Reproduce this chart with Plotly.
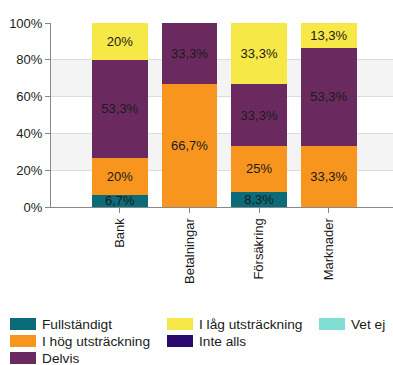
import plotly.graph_objects as go

# Categories and response shares (percent), bottom-to-top stacking order
categories = ["Bank", "Betalningar", "Försäkring", "Marknader"]
series_names = ["Fullständigt", "I hög utsträckning", "Delvis",
                "I låg utsträckning", "Inte alls", "Vet ej"]
fullstandigt = [6.7, 0, 8.3, 0]
i_hog = [20, 66.7, 25, 33.3]
delvis = [53.3, 33.3, 33.3, 53.3]
i_lag = [20, 0, 33.3, 13.3]
inte_alls = [0, 0, 0, 0]
vet_ej = [0, 0, 0, 0]
y_ticks = [0, 20, 40, 60, 80, 100]
y_tick_labels = ["0%", "20%", "40%", "60%", "80%", "100%"]

series_values = [fullstandigt, i_hog, delvis, i_lag, inte_alls, vet_ej]
colors = ["#0b6b78", "#f7951e", "#6a2a5f", "#f6e846", "#29096b", "#80ddd2"]

FONT = "Liberation Sans, Arial, sans-serif"

W, H = 393, 365
ML, MR, MT, MB = 51, 0, 23, 158
PW, PH = W - ML - MR, H - MT - MB


def fmt(v):
    if v == 0:
        return ""
    s = f"{v:.1f}".rstrip("0").rstrip(".")
    return s.replace(".", ",") + "%"


def px_x(x):
    return (x - ML) / PW


def px_y(y):
    return (H - MB - y) / PH


fig = go.Figure()
for name, vals, col in zip(series_names, series_values, colors):
    fig.add_trace(go.Bar(
        x=categories, y=vals, name=name,
        marker=dict(color=col, line=dict(width=0)),
        text=[fmt(v) for v in vals],
        textposition="inside", insidetextanchor="middle",
        textfont=dict(family=FONT, size=13, color="#1a1a1a"),
        showlegend=False,
    ))

# alternating light bands behind the bars
shapes = []
for lo, hi in [(20, 40), (60, 80)]:
    shapes.append(dict(type="rect", xref="paper", yref="y", x0=0, x1=1,
                       y0=lo, y1=hi, fillcolor="#f4f4f4", line=dict(width=0),
                       layer="below"))

# legend drawn as three columns of swatches + labels
legend_cols = [[0, 1, 2], [3, 4], [5]]
col_x = [10, 167, 319]
row_y = [324, 341, 358]
annotations = []
for ci, items in enumerate(legend_cols):
    for ri, idx in enumerate(items):
        x0 = col_x[ci]
        yc = row_y[ri]
        shapes.append(dict(type="rect", xref="paper", yref="paper",
                           x0=px_x(x0), x1=px_x(x0 + 26),
                           y0=px_y(yc + 6), y1=px_y(yc - 6),
                           fillcolor=colors[idx], line=dict(width=0)))
        annotations.append(dict(xref="paper", yref="paper",
                                x=px_x(x0 + 30), y=px_y(yc),
                                xanchor="left", yanchor="middle",
                                text=series_names[idx], showarrow=False,
                                font=dict(family=FONT, size=13.7, color="#1a1a1a")))

fig.update_layout(
    barmode="stack", bargap=0.2,
    width=W, height=H,
    margin=dict(l=ML, r=MR, t=MT, b=MB),
    paper_bgcolor="white", plot_bgcolor="white",
    font=dict(family=FONT, size=13, color="#222"),
    uniformtext=dict(minsize=13, mode="show"),
    shapes=shapes, annotations=annotations,
    xaxis=dict(range=[-0.99, 3.92], tickangle=-90, showgrid=False,
               showline=True, linecolor="#888", linewidth=1,
               ticks="outside", ticklen=5, tickcolor="#888",
               tickfont=dict(family=FONT, size=13, color="#1a1a1a")),
    yaxis=dict(range=[0, 100], tickvals=y_ticks, ticktext=y_tick_labels,
               showgrid=True, gridcolor="#dcdcdc", gridwidth=1,
               showline=True, linecolor="#888", linewidth=1,
               ticks="outside", ticklen=5, tickcolor="#888",
               zeroline=False,
               tickfont=dict(family=FONT, size=13, color="#222")),
)

fig.write_html("out.html")
